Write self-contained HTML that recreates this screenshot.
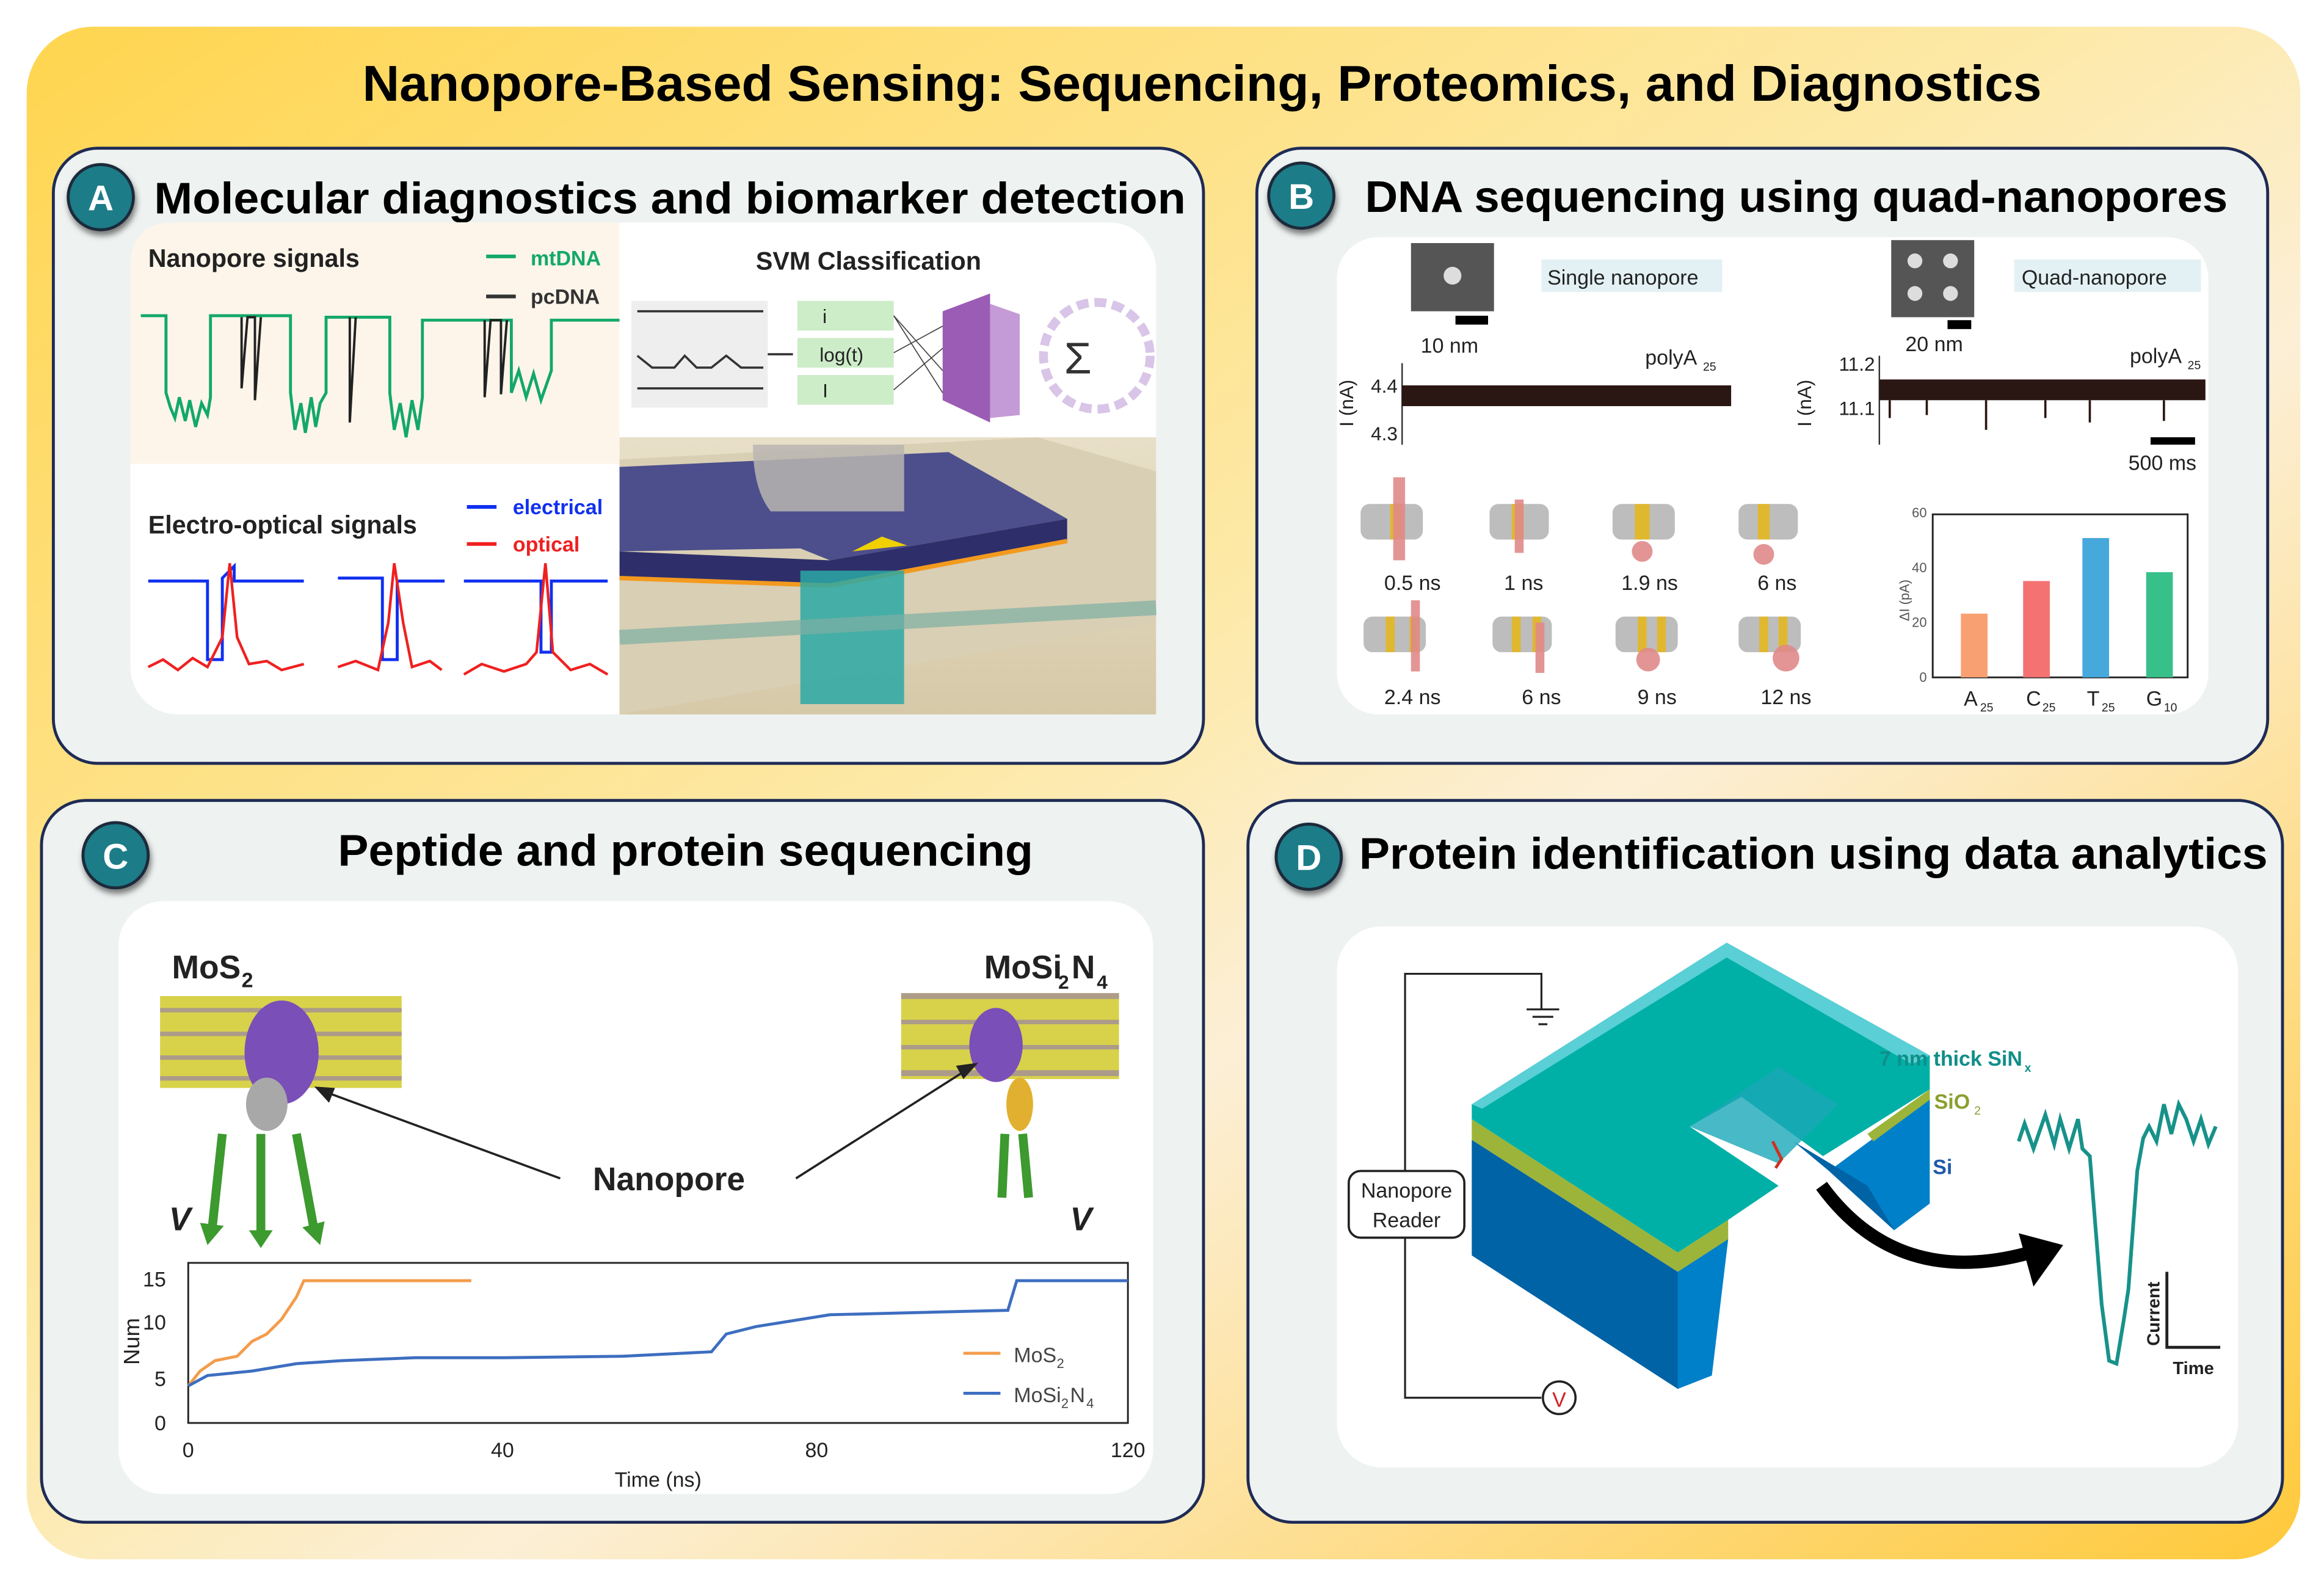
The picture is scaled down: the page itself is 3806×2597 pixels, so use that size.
<!DOCTYPE html>
<html><head><meta charset="utf-8"><style>
html,body{margin:0;padding:0;background:#fff;}
svg{display:block;}
text{font-family:"Liberation Sans",sans-serif;}
</style></head><body>
<svg width="3806" height="2597" viewBox="0 0 1568 1070" preserveAspectRatio="none" xmlns="http://www.w3.org/2000/svg">
<defs>
<linearGradient id="bg" x1="0" y1="0" x2="1" y2="1">
<stop offset="0" stop-color="#FFD54F"/><stop offset="0.45" stop-color="#FDE9A8"/><stop offset="0.6" stop-color="#FCEFD6"/><stop offset="1" stop-color="#FFC93A"/>
</linearGradient>
<filter id="sh" x="-30%" y="-30%" width="160%" height="160%"><feDropShadow dx="1" dy="3" stdDeviation="2" flood-opacity="0.5"/></filter>
<linearGradient id="tan" x1="0" y1="0" x2="0" y2="1"><stop offset="0" stop-color="#E8DFC8"/><stop offset="1" stop-color="#D6C9A8"/></linearGradient>
</defs>
<rect width="1568" height="1070" fill="#fff"/>
<rect x="18" y="18" width="1534" height="1034" rx="45" fill="url(#bg)"/>
<text x="811" y="68" text-anchor="middle" font-size="34" font-weight="bold" textLength="1133" lengthAdjust="spacingAndGlyphs">Nanopore-Based Sensing: Sequencing, Proteomics, and Diagnostics</text>

<rect x="36" y="100" width="776" height="415" rx="30" fill="#EEF2F1" stroke="#1E2B55" stroke-width="2"/>
<rect x="848" y="100" width="682" height="415" rx="30" fill="#EEF2F1" stroke="#1E2B55" stroke-width="2"/>
<rect x="28" y="540" width="784" height="487" rx="30" fill="#EEF2F1" stroke="#1E2B55" stroke-width="2"/>
<rect x="842" y="540" width="698" height="487" rx="30" fill="#EEF2F1" stroke="#1E2B55" stroke-width="2"/>

<g font-size="24" font-weight="bold" fill="#fff" text-anchor="middle">
<circle cx="68" cy="133" r="22" fill="#1D7C87" stroke="#1a2a3a" stroke-width="2" filter="url(#sh)"/><text x="68" y="142">A</text>
<circle cx="878" cy="132" r="22" fill="#1D7C87" stroke="#1a2a3a" stroke-width="2" filter="url(#sh)"/><text x="878" y="141">B</text>
<circle cx="78" cy="577" r="22" fill="#1D7C87" stroke="#1a2a3a" stroke-width="2" filter="url(#sh)"/><text x="78" y="586">C</text>
<circle cx="883" cy="578" r="22" fill="#1D7C87" stroke="#1a2a3a" stroke-width="2" filter="url(#sh)"/><text x="883" y="587">D</text>
</g>
<g font-size="30" font-weight="bold" fill="#000">
<text x="104" y="144" textLength="696" lengthAdjust="spacingAndGlyphs">Molecular diagnostics and biomarker detection</text>
<text x="921" y="143" textLength="582" lengthAdjust="spacingAndGlyphs">DNA sequencing using quad-nanopores</text>
<text x="228" y="584" textLength="469" lengthAdjust="spacingAndGlyphs">Peptide and protein sequencing</text>
<text x="917" y="586" textLength="613" lengthAdjust="spacingAndGlyphs">Protein identification using data analytics</text>
</g>

<!-- ===== Panel A ===== -->
<rect x="88" y="150" width="692" height="332" rx="32" fill="#fff"/>
<path d="M118 150 H418 V313 H88 V180 Q88 150 118 150Z" fill="#FDF5EA"/>
<text x="100" y="180" font-size="17" font-weight="bold" fill="#222">Nanopore signals</text>
<line x1="328" y1="173" x2="348" y2="173" stroke="#13A86B" stroke-width="2.5"/><text x="358" y="179" font-size="14" font-weight="bold" fill="#13A86B">mtDNA</text>
<line x1="328" y1="200" x2="348" y2="200" stroke="#333" stroke-width="2.5"/><text x="358" y="205" font-size="14" font-weight="bold" fill="#333">pcDNA</text>
<path d="M95 213 H112 V265 L115 275 L118 282 L121 268 L125 284 L128 270 L132 288 L136 272 L140 280 L142 268 V213 H160 V213 H176 V213 H196 V265 L199 290 L203 272 L206 292 L210 268 L213 288 L216 272 L220 265 V214 H263 V265 L266 290 L270 272 L274 295 L278 270 L282 290 L285 268 V216 H345 V265 L350 250 L355 268 L360 252 L365 270 L372 250 V216 H418" fill="none" stroke="#13A86B" stroke-width="2"/>
<path d="M163 214 V262 L167 214 H172 V270 L176 214 M236 214 V285 L240 214 M327 216 V268 L331 216 H338 V266 L342 216" fill="none" stroke="#222" stroke-width="1.6"/>
<text x="100" y="360" font-size="17" font-weight="bold" fill="#222">Electro-optical signals</text>
<line x1="315" y1="342" x2="335" y2="342" stroke="#1030F0" stroke-width="2.5"/><text x="346" y="347" font-size="14" font-weight="bold" fill="#1030F0">electrical</text>
<line x1="315" y1="367" x2="335" y2="367" stroke="#F02020" stroke-width="2.5"/><text x="346" y="372" font-size="14" font-weight="bold" fill="#F02020">optical</text>
<path d="M100 392 H140 V445 H150 V390 L158 382 V392 H175 V392 H205 M228 390 H258 V445 H268 V392 H300 M313 392 H365 V440 H372 V392 H410" fill="none" stroke="#1030F0" stroke-width="2"/>
<path d="M100 450 L110 445 L120 452 L130 444 L140 450 L150 430 L155 380 L160 430 L168 448 L180 446 L190 452 L205 448 M228 450 L240 446 L255 452 L262 420 L266 380 L272 420 L278 450 L290 446 L298 452 M313 455 L325 448 L340 453 L355 448 L362 440 L368 380 L373 440 L385 452 L398 448 L410 455" fill="none" stroke="#F02020" stroke-width="1.8"/>
<text x="586" y="182" text-anchor="middle" font-size="17" font-weight="bold" fill="#222">SVM Classification</text>
<rect x="426" y="203" width="92" height="72" fill="#EEEEEE"/>
<path d="M430 210 H515 M430 240 L440 248 H455 L462 240 L470 248 H480 L490 240 L500 248 H515 M430 262 H515" stroke="#333" stroke-width="1.5" fill="none"/>
<line x1="518" y1="239" x2="535" y2="239" stroke="#333" stroke-width="1.5"/>
<rect x="538" y="203" width="65" height="20" fill="#CDECC8"/><text x="555" y="218" font-size="13" fill="#222">i</text>
<rect x="538" y="228" width="65" height="20" fill="#CDECC8"/><text x="553" y="244" font-size="13" fill="#222">log(t)</text>
<rect x="538" y="253" width="65" height="20" fill="#CDECC8"/><text x="555" y="268" font-size="13" fill="#222">I</text>
<polygon points="636,210 668,198 668,285 636,270" fill="#9B5CB5"/>
<polygon points="668,205 688,212 688,280 668,282" fill="#C49BD6"/>
<g stroke="#444" stroke-width="0.7"><line x1="603" y1="213" x2="636" y2="250"/><line x1="603" y1="238" x2="636" y2="220"/><line x1="603" y1="263" x2="636" y2="235"/><line x1="603" y1="213" x2="636" y2="265"/></g>
<circle cx="740" cy="240" r="36" fill="none" stroke="#D8C5E8" stroke-width="6" stroke-dasharray="8 4"/>
<text x="718" y="252" font-size="30" fill="#333">Σ</text>
<rect x="418" y="295" width="362" height="187" fill="url(#tan)"/>
<polygon points="418,310 700,295 780,318 780,420 418,482" fill="#D9CFB4"/>
<polygon points="418,315 640,305 720,350 560,378 540,370 418,372" fill="#4D4F8C"/>
<polygon points="418,372 560,378 720,350 720,365 560,395 418,390" fill="#2E2F6A"/>
<line x1="418" y1="390" x2="560" y2="395" stroke="#F39A1E" stroke-width="3"/><line x1="560" y1="395" x2="720" y2="365" stroke="#F39A1E" stroke-width="3"/>
<path d="M508 300 Q508 330 520 345 H610 V300" fill="#B8B5B0" opacity="0.85"/>
<rect x="540" y="385" width="70" height="90" fill="#2AA8A4" opacity="0.85"/>
<polygon points="575,372 595,362 612,368" fill="#F0D000"/>
<line x1="418" y1="430" x2="780" y2="410" stroke="#7FB0A4" stroke-width="10" opacity="0.7"/>

<!-- ===== Panel B ===== -->
<rect x="902" y="160" width="588" height="322" rx="28" fill="#fff"/>
<rect x="952" y="164" width="56" height="46" fill="#555"/><circle cx="980" cy="186" r="6" fill="#ddd"/>
<rect x="982" y="213" width="22" height="6" fill="#000"/>
<text x="978" y="238" text-anchor="middle" font-size="14" fill="#222">10 nm</text>
<rect x="1040" y="175" width="122" height="22" fill="#E3F1F4"/><text x="1044" y="192" font-size="14" fill="#222">Single nanopore</text>
<rect x="1276" y="162" width="56" height="52" fill="#555"/>
<g fill="#ddd"><circle cx="1292" cy="176" r="5"/><circle cx="1316" cy="176" r="5"/><circle cx="1292" cy="198" r="5"/><circle cx="1316" cy="198" r="5"/></g>
<rect x="1314" y="216" width="16" height="6" fill="#000"/>
<text x="1305" y="237" text-anchor="middle" font-size="14" fill="#222">20 nm</text>
<rect x="1359" y="175" width="126" height="22" fill="#E3F1F4"/><text x="1364" y="192" font-size="14" fill="#222">Quad-nanopore</text>
<line x1="946" y1="245" x2="946" y2="300" stroke="#333"/>
<text x="943" y="265" font-size="13" fill="#222" text-anchor="end">4.4</text><text x="943" y="297" font-size="13" fill="#222" text-anchor="end">4.3</text>
<text x="913" y="272" font-size="13" fill="#222" text-anchor="middle" transform="rotate(-90 913 272)">I (nA)</text>
<rect x="946" y="260" width="222" height="14" fill="#2A1612"/>
<text x="1110" y="246" font-size="14" fill="#222">polyA</text><text x="1149" y="250" font-size="8" fill="#222">25</text>
<line x1="1268" y1="240" x2="1268" y2="300" stroke="#333"/>
<text x="1265" y="250" font-size="13" fill="#222" text-anchor="end">11.2</text><text x="1265" y="280" font-size="13" fill="#222" text-anchor="end">11.1</text>
<text x="1222" y="272" font-size="13" fill="#222" text-anchor="middle" transform="rotate(-90 1222 272)">I (nA)</text>
<rect x="1268" y="256" width="220" height="14" fill="#2A1612"/>
<path d="M1275 270 V282 M1300 270 V280 M1340 270 V290 M1380 270 V282 M1410 270 V285 M1460 270 V284" stroke="#2A1612" stroke-width="1.5"/>
<text x="1437" y="245" font-size="14" fill="#222">polyA</text><text x="1476" y="249" font-size="8" fill="#222">25</text>
<rect x="1451" y="295" width="30" height="5" fill="#000"/>
<text x="1436" y="317" font-size="14" fill="#222">500 ms</text>
<g fill="#BDBDBD">
<rect x="918" y="340" width="42" height="24" rx="6"/><rect x="1005" y="340" width="40" height="24" rx="6"/><rect x="1088" y="340" width="42" height="24" rx="6"/><rect x="1173" y="340" width="40" height="24" rx="6"/>
<rect x="920" y="416" width="42" height="24" rx="6"/><rect x="1007" y="416" width="40" height="24" rx="6"/><rect x="1090" y="416" width="42" height="24" rx="6"/><rect x="1173" y="416" width="42" height="24" rx="6"/>
</g>
<g fill="#E0B830"><rect x="938" y="340" width="8" height="24"/><rect x="1020" y="340" width="8" height="24"/><rect x="1103" y="340" width="10" height="24"/><rect x="1186" y="340" width="8" height="24"/>
<rect x="935" y="416" width="6" height="24"/><rect x="951" y="416" width="6" height="24"/><rect x="1020" y="416" width="6" height="24"/><rect x="1034" y="416" width="6" height="24"/><rect x="1105" y="416" width="6" height="24"/><rect x="1118" y="416" width="6" height="24"/><rect x="1187" y="416" width="6" height="24"/><rect x="1200" y="416" width="6" height="24"/></g>
<g fill="#E08A8A" opacity="0.9"><rect x="940" y="322" width="8" height="56"/><rect x="1022" y="337" width="6" height="36"/><circle cx="1108" cy="372" r="7"/><circle cx="1190" cy="374" r="7"/><rect x="952" y="405" width="6" height="48"/><rect x="1036" y="420" width="6" height="34"/><circle cx="1112" cy="445" r="8"/><circle cx="1205" cy="444" r="9"/></g>
<g font-size="14" fill="#222" text-anchor="middle"><text x="953" y="398">0.5 ns</text><text x="1028" y="398">1 ns</text><text x="1113" y="398">1.9 ns</text><text x="1199" y="398">6 ns</text>
<text x="953" y="475">2.4 ns</text><text x="1040" y="475">6 ns</text><text x="1118" y="475">9 ns</text><text x="1205" y="475">12 ns</text></g>
<rect x="1304" y="347" width="172" height="110" fill="none" stroke="#222" stroke-width="1.2"/>
<g font-size="9" fill="#555" text-anchor="end"><text x="1300" y="349">60</text><text x="1300" y="386">40</text><text x="1300" y="423">20</text><text x="1300" y="460">0</text></g>
<text x="1288" y="405" font-size="9" fill="#555" text-anchor="middle" transform="rotate(-90 1288 405)">ΔI (pA)</text>
<rect x="1323" y="414" width="18" height="43" fill="#F9A072"/>
<rect x="1365" y="392" width="18" height="65" fill="#F47272"/>
<rect x="1405" y="363" width="18" height="94" fill="#46A8DB"/>
<rect x="1448" y="386" width="18" height="71" fill="#38C08A"/>
<g font-size="14" fill="#222"><text x="1325" y="476">A</text><text x="1367" y="476">C</text><text x="1408" y="476">T</text><text x="1448" y="476">G</text></g>
<g font-size="8" fill="#222"><text x="1336" y="480">25</text><text x="1378" y="480">25</text><text x="1418" y="480">25</text><text x="1460" y="480">10</text></g>

<!-- ===== Panel C ===== -->
<rect x="80" y="608" width="698" height="400" rx="30" fill="#fff"/>
<text x="116" y="660" font-size="22" font-weight="bold" fill="#222">MoS</text><text x="163" y="666" font-size="14" font-weight="bold" fill="#222">2</text>
<rect x="108" y="672" width="163" height="62" fill="#D8D24A"/>
<g fill="#8166C6" opacity="0.5"><rect x="108" y="680" width="163" height="3"/><rect x="108" y="696" width="163" height="3"/><rect x="108" y="712" width="163" height="3"/><rect x="108" y="726" width="163" height="3"/></g>
<ellipse cx="190" cy="710" rx="25" ry="35" fill="#7A4FB8"/><ellipse cx="180" cy="745" rx="14" ry="18" fill="#A8A8A8"/>
<text x="664" y="660" font-size="22" font-weight="bold" fill="#222">MoSi</text><text x="714" y="667" font-size="13" font-weight="bold" fill="#222">2</text><text x="723" y="660" font-size="22" font-weight="bold" fill="#222">N</text><text x="740" y="667" font-size="13" font-weight="bold" fill="#222">4</text>
<rect x="608" y="670" width="147" height="58" fill="#D8D24A"/>
<g fill="#8166C6" opacity="0.5"><rect x="608" y="670" width="147" height="4"/><rect x="608" y="688" width="147" height="3"/><rect x="608" y="705" width="147" height="3"/><rect x="608" y="722" width="147" height="4"/></g>
<ellipse cx="672" cy="705" rx="18" ry="25" fill="#7A4FB8"/><ellipse cx="688" cy="745" rx="9" ry="18" fill="#E2B030"/>
<g stroke="#3C9A2E" stroke-width="6" fill="none"><path d="M150 765 L143 830"/><path d="M176 765 L176 835"/><path d="M200 765 L212 830"/><path d="M678 765 L676 808"/><path d="M690 765 L694 808"/></g>
<g fill="#3C9A2E"><polygon points="135,825 151,827 140,840"/><polygon points="168,830 184,830 176,842"/><polygon points="204,828 219,824 216,840"/></g>
<text x="114" y="830" font-size="22" font-weight="bold" font-style="italic" fill="#222">V</text>
<text x="722" y="830" font-size="22" font-weight="bold" font-style="italic" fill="#222">V</text>
<text x="400" y="803" font-size="22" font-weight="bold" fill="#222">Nanopore</text>
<line x1="378" y1="795" x2="215" y2="735" stroke="#222" stroke-width="1.5"/><polygon points="212,733 226,734 222,744" fill="#222"/>
<line x1="537" y1="795" x2="655" y2="720" stroke="#222" stroke-width="1.5"/><polygon points="660,717 650,728 645,719" fill="#222"/>
<rect x="127" y="852" width="634" height="108" fill="none" stroke="#222" stroke-width="1.2"/>
<g font-size="14" fill="#222"><text x="112" y="868" text-anchor="end">15</text><text x="112" y="897" text-anchor="end">10</text><text x="112" y="935" text-anchor="end">5</text><text x="112" y="965" text-anchor="end">0</text>
<text x="127" y="983" text-anchor="middle">0</text><text x="339" y="983" text-anchor="middle">40</text><text x="551" y="983" text-anchor="middle">80</text><text x="761" y="983" text-anchor="middle">120</text>
<text x="444" y="1003" text-anchor="middle">Time (ns)</text></g>
<text x="94" y="905" font-size="15" fill="#222" text-anchor="middle" transform="rotate(-90 94 905)">Num</text>
<path d="M127 935 L135 925 L145 918 L160 915 L170 905 L180 900 L190 890 L200 875 L205 864 H318" fill="none" stroke="#F39C4B" stroke-width="2"/>
<path d="M127 935 L140 928 L170 925 L200 920 L230 918 L280 916 L340 916 L420 915 L480 912 L490 900 L510 895 L560 887 L600 886 L680 884 L686 864 H761" fill="none" stroke="#3D6EC0" stroke-width="2"/>
<line x1="650" y1="913" x2="675" y2="913" stroke="#F39C4B" stroke-width="2"/><text x="684" y="919" font-size="14" fill="#444">MoS</text><text x="713" y="923" font-size="9" fill="#444">2</text>
<line x1="650" y1="940" x2="675" y2="940" stroke="#3D6EC0" stroke-width="2"/><text x="684" y="946" font-size="14" fill="#444">MoSi</text><text x="716" y="950" font-size="9" fill="#444">2</text><text x="722" y="946" font-size="14" fill="#444">N</text><text x="733" y="950" font-size="9" fill="#444">4</text>

<!-- ===== Panel D ===== -->
<rect x="902" y="625" width="608" height="365" rx="30" fill="#fff"/>
<path d="M1040 681 V657 H948 V943 H1040" fill="none" stroke="#222" stroke-width="1.3"/>
<path d="M1030 681 H1052 M1034 686 H1048 M1038 691 H1044" stroke="#222" stroke-width="1.3"/>
<rect x="910" y="790" width="78" height="45" rx="8" fill="#fff" stroke="#222" stroke-width="1.5"/>
<text x="949" y="808" text-anchor="middle" font-size="14" fill="#222">Nanopore</text><text x="949" y="828" text-anchor="middle" font-size="14" fill="#222">Reader</text>
<circle cx="1052" cy="943" r="11" fill="#fff" stroke="#222" stroke-width="1.5"/><text x="1052" y="949" text-anchor="middle" font-size="14" fill="#D02020">V</text>
<polygon points="993,769 1132,858 1166,836 1157,905 1132,937 993,847" fill="#0063A5"/>
<polygon points="1132,858 1166,836 1155,928 1132,937" fill="#0080C8"/>
<polygon points="1234,790 1302,740 1302,812 1278,830" fill="#0080C8"/>
<polygon points="1210,770 1234,790 1278,830 1260,800" fill="#0063A5"/>
<polygon points="993,755 1132,845 1166,823 1166,836 1132,858 993,769" fill="#9CB43A"/>
<polygon points="1260,765 1302,735 1302,742 1264,770" fill="#9CB43A"/>
<polygon points="993,745 1165,636 1302,712 1302,735 1230,780 1175,740 1140,760 1200,800 1166,823 1132,845 993,755" fill="#00B0A6"/>
<polygon points="993,745 1165,636 1302,712 1290,718 1165,646 1000,748" fill="#5ACFD6"/>
<polygon points="1140,760 1200,720 1240,745 1200,785" fill="#1AA8B8" opacity="0.8"/>
<path d="M1196 770 l6 12 l-4 6" stroke="#D03020" stroke-width="2" fill="none"/>
<text x="1268" y="719" font-size="14" font-weight="bold" fill="#0F8F88">7 nm thick SiN</text><text x="1366" y="723" font-size="8" font-weight="bold" fill="#0F8F88">x</text>
<text x="1305" y="748" font-size="14" font-weight="bold" fill="#8AA030">SiO</text><text x="1332" y="752" font-size="8" fill="#8AA030">2</text>
<text x="1304" y="792" font-size="14" font-weight="bold" fill="#1F5AAA">Si</text>
<path d="M1229 800 Q1280 870 1370 845" fill="none" stroke="#000" stroke-width="9"/>
<polygon points="1362,832 1392,840 1372,868" fill="#000"/>
<path d="M1362 770 L1366 758 L1372 775 L1380 752 L1386 772 L1390 755 L1396 775 L1402 755 L1405 775 L1410 780 L1418 880 L1423 918 L1428 920 L1433 890 L1436 870 L1442 790 L1446 768 L1450 760 L1455 770 L1460 745 L1465 765 L1470 745 L1475 755 L1480 770 L1485 755 L1490 772 L1495 760" fill="none" stroke="#17928A" stroke-width="2.5"/>
<path d="M1462 858 V909 H1498" fill="none" stroke="#222" stroke-width="2"/>
<text x="1457" y="908" font-size="12" font-weight="bold" fill="#222" transform="rotate(-90 1457 908)">Current</text>
<text x="1466" y="927" font-size="12" font-weight="bold" fill="#222">Time</text>
</svg>
</body></html>
